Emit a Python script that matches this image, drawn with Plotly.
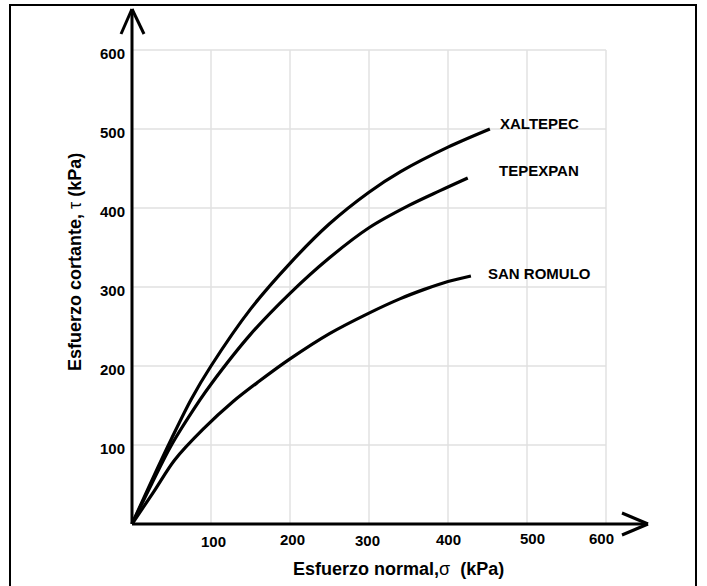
import plotly.graph_objects as go

# ---------------- data (kPa) ----------------
grid_ticks = [100, 200, 300, 400, 500, 600]
tick_labels = ["100", "200", "300", "400", "500", "600"]

xaltepec_sigma = [0, 25, 50, 75, 100, 150, 200, 250, 300, 340, 400, 453]
xaltepec_tau = [0, 55, 108, 158, 200, 272, 330, 380, 420, 446, 477, 500]

tepexpan_sigma = [0, 25, 50, 86, 100, 150, 200, 250, 300, 350, 390, 425]
tepexpan_tau = [0, 51, 100, 157, 177, 240, 292, 337, 375, 403, 422, 438]

sanromulo_sigma = [0, 27, 54, 90, 128, 160, 200, 250, 300, 339, 370, 400, 429]
sanromulo_tau = [0, 40, 81, 120, 155, 180, 209, 241, 267, 285, 297, 307, 314]

series = [
    ("XALTEPEC", xaltepec_sigma, xaltepec_tau),
    ("TEPEXPAN", tepexpan_sigma, tepexpan_tau),
    ("SAN ROMULO", sanromulo_sigma, sanromulo_tau),
]

# ---------------- geometry helpers (layout only) ----------------
W_PX, H_PX = 707, 586
SCALE = 0.79            # px per kPa
ORIGIN_X, ORIGIN_Y = 132, 524
ML, MR, MT, MB = 108, 40, 2, 40
plot_w = W_PX - ML - MR
plot_h = H_PX - MT - MB
x0 = -(ORIGIN_X - ML) / SCALE
x1 = x0 + plot_w / SCALE
y0 = -((H_PX - MB) - ORIGIN_Y) / SCALE
y1 = y0 + plot_h / SCALE

# small hand-placement nudges of the x tick labels (px)
xlabel_nudge_x = [2, 2, -2, 0, 5, -5]
xlabel_nudge_y = [541, 539, 540, 539, 538, 538]


def dx(px):
    return (px - ORIGIN_X) / SCALE


def dy(py):
    return (ORIGIN_Y - py) / SCALE


def paper_x(px):
    return (px - ML) / plot_w


def paper_y(py):
    return ((H_PX - MB) - py) / plot_h


FONT = "Liberation Sans, Arial, sans-serif"

fig = go.Figure()

# grid (only inside the 0..600 box)
gx, gy = [], []
gmax = grid_ticks[-1]
for t in grid_ticks:
    gx += [t, t, None]
    gy += [0, gmax, None]
    gx += [0, gmax, None]
    gy += [t, t, None]
fig.add_trace(go.Scatter(x=gx, y=gy, mode="lines",
                         line=dict(color="#e0e0e0", width=1.4),
                         hoverinfo="skip", showlegend=False))

for name, sx, sy in series:
    fig.add_trace(go.Scatter(x=sx, y=sy, mode="lines", name=name,
                             line=dict(color="black", width=3.2, shape="spline", smoothing=0.9),
                             showlegend=False))

shapes = []
lw = 3
# axes with arrows
shapes.append(dict(type="line", xref="x", yref="y", x0=0, y0=0, x1=dx(648), y1=0,
                   line=dict(color="black", width=lw)))
shapes.append(dict(type="line", xref="x", yref="y", x0=dx(622), y0=dy(513), x1=dx(648), y1=0,
                   line=dict(color="black", width=lw)))
shapes.append(dict(type="line", xref="x", yref="y", x0=dx(622), y0=dy(535), x1=dx(648), y1=0,
                   line=dict(color="black", width=lw)))
shapes.append(dict(type="line", xref="x", yref="y", x0=0, y0=0, x1=0, y1=dy(9),
                   line=dict(color="black", width=lw)))
shapes.append(dict(type="line", xref="x", yref="y", x0=dx(121), y0=dy(34), x1=0, y1=dy(9),
                   line=dict(color="black", width=lw)))
shapes.append(dict(type="line", xref="x", yref="y", x0=dx(144), y0=dy(34), x1=0, y1=dy(9),
                   line=dict(color="black", width=lw)))
# outer frame
shapes.append(dict(type="rect", xref="paper", yref="paper",
                   x0=paper_x(10), x1=paper_x(696), y0=paper_y(600), y1=paper_y(5),
                   line=dict(color="black", width=2), fillcolor="rgba(0,0,0,0)"))

annotations = []
for t, lab, nx, ny in zip(grid_ticks, tick_labels, xlabel_nudge_x, xlabel_nudge_y):
    annotations.append(dict(x=t, y=dy(ny), xref="x", yref="y", text="<b>%s</b>" % lab,
                            showarrow=False, xanchor="center", yanchor="middle", xshift=nx,
                            font=dict(family=FONT, size=15, color="black")))
    annotations.append(dict(x=dx(127), y=t, xref="x", yref="y", text="<b>%s</b>" % lab,
                            showarrow=False, xanchor="right", yanchor="middle", yshift=-3,
                            font=dict(family=FONT, size=15, color="black")))

# series labels
label_pos = {"XALTEPEC": (498, 123), "TEPEXPAN": (497, 170), "SAN ROMULO": (486, 273)}
for name, sx, sy in series:
    px, py = label_pos[name]
    annotations.append(dict(x=dx(px), y=dy(py), xref="x", yref="y", text="<b>%s</b>" % name,
                            showarrow=False, xanchor="left", yanchor="middle",
                            font=dict(family=FONT, size=15, color="black")))

# axis titles (paper refs so they are not hidden outside the axis ranges)
annotations.append(dict(x=paper_x(398), y=paper_y(569), xref="paper", yref="paper",
                        text="<b>Esfuerzo normal,</b>σ\u00a0\u00a0<b>(kPa)</b>",
                        showarrow=False, xanchor="center", yanchor="middle",
                        font=dict(family=FONT, size=18, color="black")))
annotations.append(dict(x=paper_x(75), y=paper_y(262), xref="paper", yref="paper",
                        text="<b>Esfuerzo cortante,</b> τ\u00a0<b>(kPa)</b>",
                        showarrow=False, xanchor="center", yanchor="middle", textangle=-90,
                        font=dict(family=FONT, size=18, color="black")))

fig.update_layout(
    width=W_PX, height=H_PX,
    margin=dict(l=ML, r=MR, t=MT, b=MB),
    paper_bgcolor="white", plot_bgcolor="white",
    xaxis=dict(range=[x0, x1], showgrid=False, zeroline=False, showticklabels=False,
               showline=False, fixedrange=True),
    yaxis=dict(range=[y0, y1], showgrid=False, zeroline=False, showticklabels=False,
               showline=False, fixedrange=True),
    shapes=shapes, annotations=annotations,
    showlegend=False,
)

fig.write_html("out.html", config={"displayModeBar": False},
               post_script="document.body.style.margin='0';")
